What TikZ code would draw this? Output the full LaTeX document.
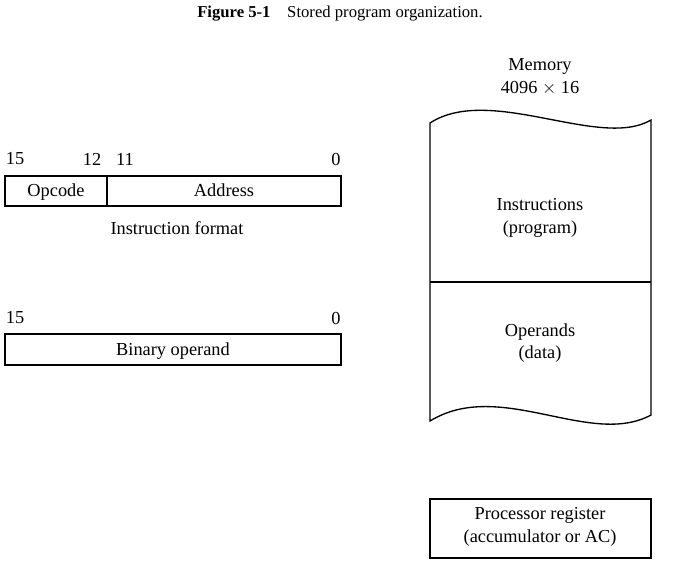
\documentclass[tikz,border=0pt]{standalone}
\usepackage{fontspec}
\setmainfont{Liberation Serif}
\begin{document}
\begin{tikzpicture}[x=0.6pt,y=-0.6pt,line width=0.8pt,font=\fontsize{11}{13.5}\selectfont,
	lbl/.style={align=center,inner sep=1pt}]
	\useasboundingbox (0,0) rectangle (675,574);
	\node[lbl,font=\fontsize{10}{12}\selectfont] (title) at (340,14) {\textbf{Figure 5-1}\quad Stored program organization.};
	% instruction format
	\draw (5,176) rectangle (341,206);
	\draw (107,176)--(107,206);
	\node[lbl,anchor=base] (opcode) at (56,196) {Opcode};
	\node[lbl,anchor=base] (addr) at (224,196) {Address};
	\node[lbl] (i15) at (15,159) {15};
	\node[lbl] (i12) at (92,159) {12};
	\node[lbl] (i11) at (125,159) {11};
	\node[lbl] (i0) at (336,159) {0};
	\node[lbl] (ifmt) at (177,228) {Instruction format};
	% operand
	\draw (5,334) rectangle (341,365);
	\node[lbl,anchor=base] (operand) at (173,355) {Binary operand};
	\node[lbl] (o15) at (15,318) {15};
	\node[lbl] (o0) at (336,318) {0};
	% memory
	\node[lbl] (mem) at (540,77) {Memory\\4096 $\times$ 16};
	\draw (430,123) .. controls (490,84) and (600,150) .. (651,120) -- (651,415)
		.. controls (590,448) and (500,378) .. (430,421) -- cycle;
	\draw (430,282)--(651,282);
	\node[lbl] (instr) at (540,218) {Instructions\\(program)};
	\node[lbl] (data) at (540,343) {Operands\\(data)};
	% accumulator
	\draw (430,499) rectangle (651,558);
	\node[lbl] (ac) at (540,527) {Processor register\\(accumulator or AC)};
\end{tikzpicture}
\end{document}
